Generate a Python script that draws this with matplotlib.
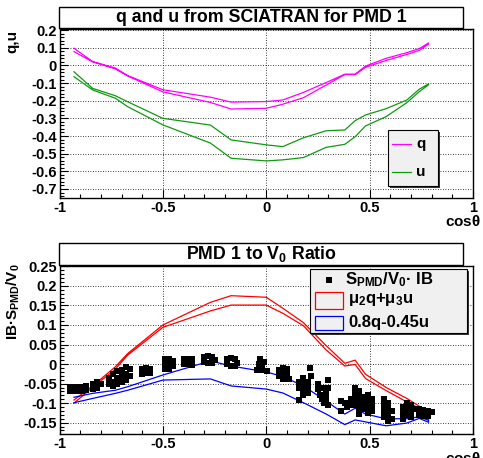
import matplotlib
matplotlib.use("Agg")
import matplotlib.pyplot as plt
from matplotlib.patches import Rectangle
from matplotlib.lines import Line2D
from matplotlib.ticker import MultipleLocator, FuncFormatter

# ROOT風の見た目 (Helvetica bold相当)
plt.rcParams['font.family'] = ['Liberation Sans', 'DejaVu Sans']
plt.rcParams['font.weight'] = 'bold'
plt.rcParams['axes.unicode_minus'] = False
plt.rcParams['mathtext.fontset'] = 'custom'
plt.rcParams['mathtext.rm'] = 'Liberation Sans:bold'
plt.rcParams['mathtext.bf'] = 'Liberation Sans:bold'
plt.rcParams['mathtext.it'] = 'Liberation Sans'

# cos(theta) grid of the SCIATRAN curves
cos_theta = [-0.93, -0.84, -0.73, -0.67, -0.50, -0.27, -0.17, 0.00, 0.08, 0.18,
             0.29, 0.38, 0.43, 0.48, 0.58, 0.68, 0.74, 0.785]

# q and u (two branches each)
q_a = [0.097, 0.022, -0.015, -0.058, -0.138, -0.180, -0.208, -0.205, -0.196, -0.153,
       -0.097, -0.050, -0.050, -0.004, 0.040, 0.072, 0.095, 0.127]
q_b = [0.078, 0.020, -0.020, -0.060, -0.150, -0.210, -0.247, -0.243, -0.220, -0.183,
       -0.111, -0.052, -0.052, -0.011, 0.028, 0.062, 0.085, 0.120]
u_a = [-0.036, -0.130, -0.172, -0.206, -0.300, -0.338, -0.422, -0.450, -0.460, -0.410,
       -0.370, -0.366, -0.313, -0.281, -0.245, -0.196, -0.135, -0.105]
u_b = [-0.064, -0.139, -0.186, -0.234, -0.337, -0.440, -0.526, -0.541, -0.535, -0.522,
       -0.464, -0.447, -0.404, -0.343, -0.290, -0.211, -0.149, -0.110]

# mu2 q + mu3 u (red) and 0.8q - 0.45u (blue)
red_a = [-0.092, -0.056, -0.007, 0.027, 0.100, 0.158, 0.175, 0.171, 0.143, 0.106,
         0.047, 0.002, 0.010, -0.026, -0.060, -0.088, -0.108, -0.140]
red_b = [-0.100, -0.060, -0.013, 0.023, 0.094, 0.136, 0.151, 0.151, 0.130, 0.098,
         0.036, -0.005, -0.001, -0.037, -0.068, -0.097, -0.113, -0.144]
blue_a = [-0.085, -0.075, -0.067, -0.058, -0.028, 0.008, -0.005, -0.020, -0.032, -0.056,
          -0.095, -0.128, -0.113, -0.128, -0.140, -0.140, -0.135, -0.144]
blue_b = [-0.099, -0.088, -0.075, -0.067, -0.041, -0.038, -0.056, -0.064, -0.074, -0.099,
          -0.128, -0.155, -0.143, -0.148, -0.158, -0.151, -0.139, -0.149]

# measured S_PMD/V_0 * IB (one line per cluster)
meas_x = [-0.95, -0.95, -0.93, -0.93, -0.91, -0.91, -0.89, -0.89, -0.87, -0.87,
          -0.84, -0.84, -0.82, -0.82, -0.80,
          -0.76, -0.76, -0.74, -0.74, -0.74, -0.72, -0.72, -0.72, -0.70, -0.70, -0.70,
          -0.68, -0.68, -0.68, -0.66, -0.66,
          -0.60, -0.60, -0.58, -0.58, -0.56, -0.56,
          -0.49, -0.49, -0.49, -0.47, -0.47, -0.47, -0.45, -0.45,
          -0.40, -0.40, -0.38, -0.38, -0.36, -0.36,
          -0.30, -0.30, -0.28, -0.28, -0.26, -0.26, -0.25,
          -0.19, -0.19, -0.17, -0.17, -0.15, -0.15, -0.14,
          -0.03, -0.035, -0.02, -0.045, -0.02, 0.005, -0.01,
          0.06, 0.06, 0.08, 0.08, 0.08, 0.10, 0.10, 0.11,
          0.16, 0.16, 0.18, 0.18, 0.18, 0.18, 0.20, 0.20, 0.20, 0.21, 0.215, 0.16,
          0.25, 0.25, 0.26, 0.27, 0.27, 0.28, 0.29, 0.29, 0.30, 0.30, 0.30,
          0.36, 0.36, 0.38, 0.39,
          0.41, 0.41, 0.43, 0.43, 0.43, 0.43, 0.45, 0.45, 0.45, 0.45, 0.45,
          0.47, 0.47, 0.47, 0.49, 0.49, 0.49, 0.49, 0.51, 0.51, 0.51,
          0.57, 0.57, 0.57, 0.57, 0.59, 0.59, 0.59, 0.59, 0.61, 0.61,
          0.66, 0.66, 0.66, 0.68, 0.68, 0.68, 0.70, 0.70, 0.70, 0.72,
          0.74, 0.74, 0.76, 0.76, 0.78, 0.78, 0.80]
meas_y = [-0.058, -0.068, -0.058, -0.068, -0.058, -0.068, -0.058, -0.068, -0.056, -0.066,
          -0.050, -0.064, -0.046, -0.060, -0.050,
          -0.035, -0.050, -0.025, -0.045, -0.057, -0.018, -0.035, -0.050, -0.015, -0.030, -0.045,
          -0.008, -0.025, -0.040, -0.012, -0.030,
          -0.012, -0.025, -0.010, -0.024, -0.012, -0.024,
          0.012, -0.002, -0.012, 0.014, 0.000, -0.012, 0.008, -0.006,
          0.012, 0.000, 0.014, 0.000, 0.012, -0.002,
          0.018, 0.006, 0.020, 0.004, 0.018, 0.004, 0.010,
          0.014, 0.000, 0.016, -0.005, 0.012, -0.005, 0.004,
          0.012, 0.000, -0.004, -0.015, -0.016, -0.018, 0.006,
          -0.015, -0.030, -0.010, -0.025, -0.038, -0.012, -0.028, -0.038,
          -0.045, -0.060, -0.035, -0.050, -0.065, -0.078, -0.045, -0.060, -0.075, -0.010, -0.030, -0.092,
          -0.050, -0.065, -0.080, -0.090, -0.060, -0.100, -0.075, -0.090, -0.040, -0.060, -0.105,
          -0.095, -0.120, -0.100, -0.110,
          -0.090, -0.105, -0.060, -0.075, -0.090, -0.105, -0.070, -0.085, -0.100, -0.115, -0.128,
          -0.085, -0.100, -0.115, -0.080, -0.095, -0.110, -0.125, -0.090, -0.105, -0.120,
          -0.090, -0.105, -0.120, -0.135, -0.100, -0.115, -0.130, -0.145, -0.120, -0.140,
          -0.110, -0.125, -0.140, -0.100, -0.115, -0.130, -0.105, -0.120, -0.135, -0.115,
          -0.115, -0.130, -0.118, -0.132, -0.120, -0.132, -0.122]

W, H = 483, 458
fig = plt.figure(figsize=(W / 100, H / 100), dpi=100)


def fx(px):
    return px / W


def fy(py):
    return 1 - py / H


def loop(a, b):
    # 2本の枝を1本の閉じた線にする
    return cos_theta + cos_theta[::-1], a + b[::-1]


def style_axis(ax, ymajor, yminor):
    ax.set_xlim(-1, 1)
    ax.xaxis.set_major_locator(MultipleLocator(0.5))
    ax.xaxis.set_minor_locator(MultipleLocator(0.1))
    ax.yaxis.set_major_locator(MultipleLocator(ymajor))
    ax.yaxis.set_minor_locator(MultipleLocator(yminor))
    fmt = FuncFormatter(lambda v, p: "%g" % round(v, 4))
    ax.xaxis.set_major_formatter(fmt)
    ax.yaxis.set_major_formatter(fmt)
    ax.tick_params(which='both', direction='in', top=False, right=False, labelsize=10.5, width=0.8)
    ax.tick_params(which='major', length=6)
    ax.tick_params(which='minor', length=3)
    ax.tick_params(axis='x', pad=2.5)
    ax.tick_params(axis='y', pad=2)
    for lab in ax.get_xticklabels() + ax.get_yticklabels():
        lab.set_fontweight('bold')
    ax.grid(True, which='major', color='black', linestyle=(0, (1, 2)), linewidth=0.6)
    for s in ax.spines.values():
        s.set_linewidth(1.0)


def title_box(x0, y0, x1, y1, text):
    fig.add_artist(Rectangle((fx(x0), fy(y1)), fx(x1) - fx(x0), fy(y0) - fy(y1),
                             transform=fig.transFigure, facecolor='white',
                             edgecolor='black', linewidth=1.0))
    fig.text(fx((x0 + x1) / 2), fy((y0 + y1) / 2), text, ha='center', va='center',
             fontsize=12.8, fontweight='bold')


def legend_box(x0, y0, x1, y1):
    # 影付きの灰色の箱
    fig.add_artist(Rectangle((fx(x0 + 1.5), fy(y1 + 1.5)), fx(x1) - fx(x0), fy(y0) - fy(y1),
                             transform=fig.transFigure, facecolor='#333333',
                             edgecolor='none'))
    fig.add_artist(Rectangle((fx(x0), fy(y1)), fx(x1) - fx(x0), fy(y0) - fy(y1),
                             transform=fig.transFigure, facecolor='#f0f0f0',
                             edgecolor='black', linewidth=0.8))


# 上段: q と u
ax1 = fig.add_axes([fx(59.5), fy(198), fx(473) - fx(59.5), fy(29) - fy(198)])
style_axis(ax1, 0.1, 0.02)
ax1.set_ylim(-0.751, 0.206)
ax1.plot(*loop(q_a, q_b), color='#ff00ff', lw=0.9)
ax1.plot(*loop(u_a, u_b), color='#109a10', lw=0.9)

title_box(59, 7, 463, 28, "q and u from SCIATRAN for PMD 1")
fig.text(fx(12), fy(30), "q,u", rotation=90, ha='center', va='top', fontsize=11, fontweight='bold')
fig.text(fx(481), fy(214), r"cos$\theta$", ha='right', va='top', fontsize=11, fontweight='bold')

legend_box(388, 130, 438, 186)
fig.add_artist(Line2D([fx(392), fx(411)], [fy(144), fy(144)], transform=fig.transFigure,
                      color='#ff00ff', lw=0.9))
fig.add_artist(Line2D([fx(392), fx(411)], [fy(172), fy(172)], transform=fig.transFigure,
                      color='#109a10', lw=0.9))
fig.text(fx(416), fy(144), "q", ha='left', va='center', fontsize=11, fontweight='bold')
fig.text(fx(416), fy(172), "u", ha='left', va='center', fontsize=11, fontweight='bold')

# 下段: PMD 1 / V0 比
ax2 = fig.add_axes([fx(59.5), fy(434), fx(473) - fx(59.5), fy(266) - fy(434)])
style_axis(ax2, 0.05, 0.01)
ax2.set_ylim(-0.179, 0.251)
ax2.plot(*loop(red_a, red_b), color='#ff0000', lw=0.9)
ax2.plot(*loop(blue_a, blue_b), color='#0000ff', lw=0.9)
ax2.plot(meas_x, meas_y, 's', color='black', ms=4.2, mew=0)

title_box(59, 243, 463, 265, r"PMD 1 to V$_{\rm 0}$ Ratio")
fig.text(fx(13), fy(263), r"IB·S$_{\rm PMD}$/V$_{\rm 0}$", rotation=90, ha='center', va='top',
         fontsize=11, fontweight='bold')
fig.text(fx(481), fy(451), r"cos$\theta$", ha='right', va='top', fontsize=11, fontweight='bold')

legend_box(310, 269, 467, 333)
fig.add_artist(Line2D([fx(329)], [fy(280)], transform=fig.transFigure, marker='s',
                      color='black', ms=5, mew=0, lw=0))
fig.text(fx(345), fy(280), r"S$_{\rm PMD}$/V$_{\rm 0}$· IB", ha='left', va='center',
         fontsize=12, fontweight='bold')
fig.add_artist(Rectangle((fx(315), fy(309)), fx(343) - fx(315), fy(292) - fy(309),
                         transform=fig.transFigure, facecolor='none', edgecolor='#ff0000', lw=0.9))
fig.text(fx(348), fy(299), r"$\mu_{\rm 2}$q+$\mu_{\rm 3}$u", ha='left', va='center',
         fontsize=12, fontweight='bold')
fig.add_artist(Rectangle((fx(315), fy(330)), fx(343) - fx(315), fy(316) - fy(330),
                         transform=fig.transFigure, facecolor='none', edgecolor='#0000ff', lw=0.9))
fig.text(fx(348), fy(323), "0.8q-0.45u", ha='left', va='center', fontsize=12, fontweight='bold')

fig.savefig("out.png", dpi=100)
